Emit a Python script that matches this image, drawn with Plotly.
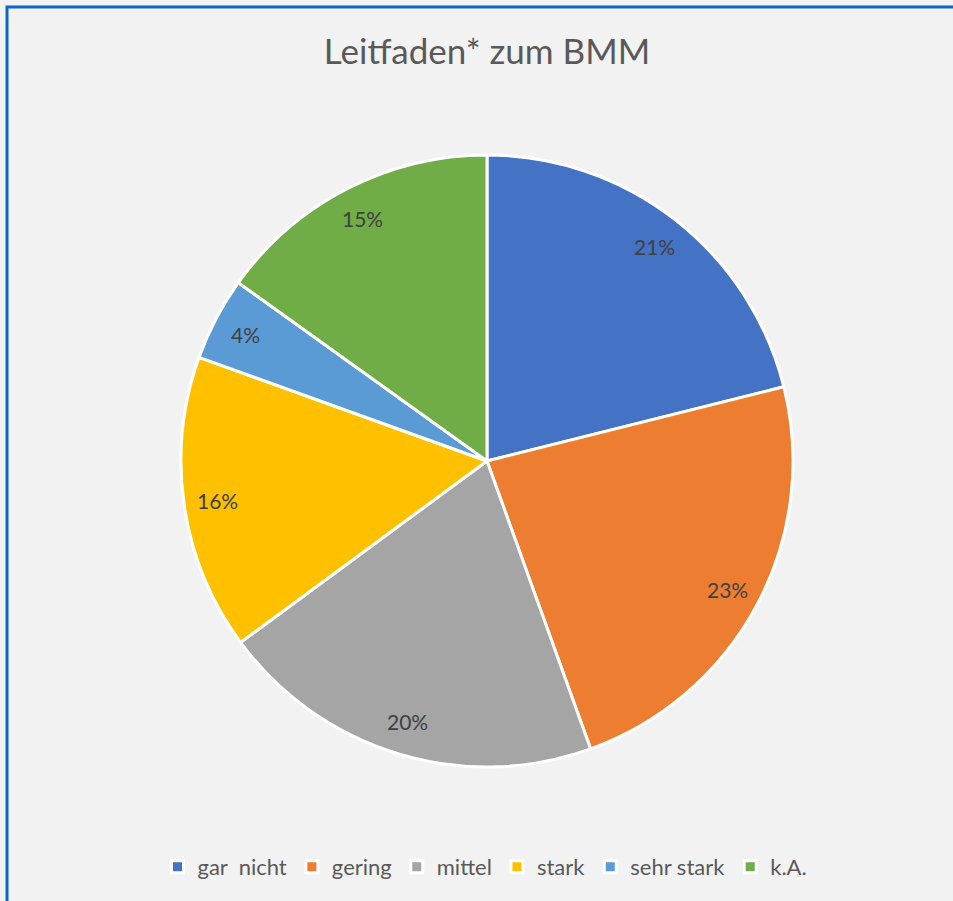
import math
import plotly.graph_objects as go

categories = ["gar  nicht", "gering", "mittel", "stark", "sehr stark", "k.A."]
values = [21.1, 23.4, 20.4, 15.6, 4.4, 15.1]
colors = ["#4472C4", "#ED7D31", "#A5A5A5", "#FFC000", "#5B9BD5", "#70AD47"]
title_text = "Leitfaden* zum BMM"

W, H = 953, 901
cx, cy, r = 487, 461, 306  # pie centre/radius in px (from top-left)

fig = go.Figure(go.Pie(
    labels=categories,
    values=values,
    sort=False,
    direction="clockwise",
    rotation=0,
    marker=dict(colors=colors, line=dict(color="white", width=3)),
    textinfo="none",
    hoverinfo="skip",
    domain=dict(x=[(cx - r) / W, (cx + r) / W], y=[(H - cy - r) / H, (H - cy + r) / H]),
))

# data labels placed along each slice's mid-angle
total = sum(values)
cum = 0.0
annotations = []
for v in values:
    mid = (cum + v / 2) / total * 2 * math.pi
    cum += v
    px = cx + 0.89 * r * math.sin(mid)
    py = cy - 0.89 * r * math.cos(mid)
    annotations.append(dict(
        x=px / W, y=1 - py / H, xref="paper", yref="paper",
        text=f"{round(v / total * 100)}%", showarrow=False,
        font=dict(family="Lato", size=21, color="#404040"),
        xanchor="center", yanchor="middle",
    ))

fig.update_layout(
    width=W, height=H,
    margin=dict(l=0, r=0, t=0, b=0),
    paper_bgcolor="#F2F2F2",
    plot_bgcolor="#F2F2F2",
    title=dict(text=title_text, x=487 / W, xanchor="center", y=1 - 52 / H, yanchor="middle",
               font=dict(family="Lato", size=35, color="#595959")),
    showlegend=True,
    legend=dict(orientation="h", x=485 / W, xanchor="center", y=(H - 867) / H, yanchor="middle",
                font=dict(family="Lato", size=22, color="#595959"),
                bgcolor="rgba(0,0,0,0)", traceorder="normal"),
    annotations=annotations,
    shapes=[
        dict(type="path", xref="paper", yref="paper",
             path=f"M {7 / W},0 L {7 / W},{1 - 7 / H} L 1,{1 - 7 / H}",
             line=dict(color="#0A66CC", width=3)),
    ],
)

fig.write_html("out.html", config={"displayModeBar": False},
               post_script="document.body.style.margin='0';document.body.style.overflow='hidden';")
